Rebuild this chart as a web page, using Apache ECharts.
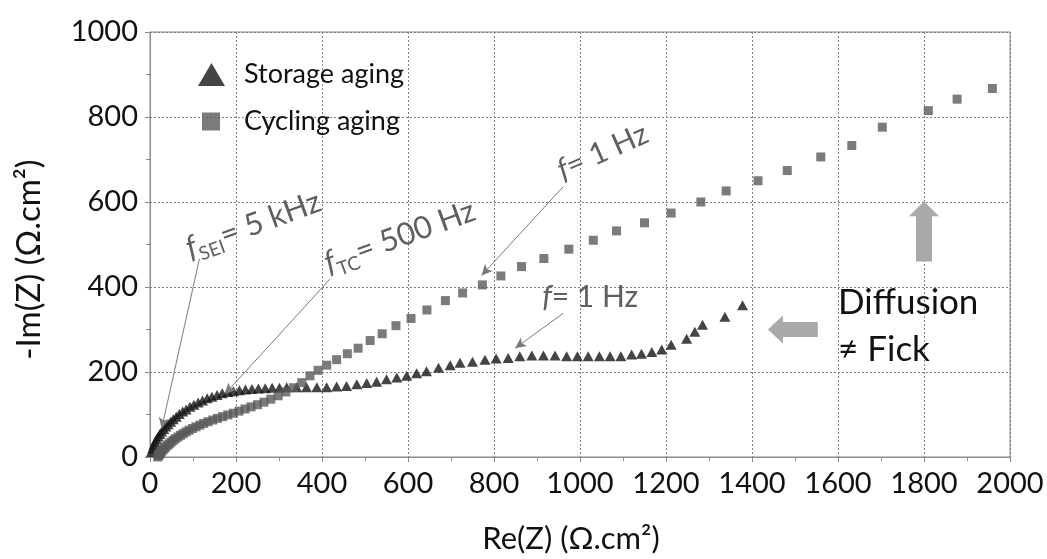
<!DOCTYPE html>
<html><head><meta charset="utf-8">
<script src="https://cdn.jsdelivr.net/npm/echarts@6/dist/echarts.min.js"></script>
<style>html,body{margin:0;padding:0;background:#fff}#c{width:1047px;height:559px}</style>
</head><body><div id="c"></div>
<script>
// ---- data (Re(Z), -Im(Z)) in ohm.cm2 ----
const storageRe = [3,6,9,12,15,19,23,27,32,37,42,48,54,61,68,76,84,93,102,112,122,133,144,156,168,181,194,208,222,237,252,268,284,301,318,341,364,388,411,434,457,481,504,527,550,574,597,620,643,671,698,721,750,779,805,833,860,888,915,942,969,994,1019,1045,1070,1095,1120,1143,1167,1190,1212,1248,1267,1285,1337,1378];
const storageIm = [12,20,28,35,42,48,54,60,66,72,77,83,89,95,101,107,112,118,123,128,133,138,142,146,150,153,155,157,159,160,161,162,163,163,164,164,164,164,164,166,167,171,174,177,183,187,191,197,202,210,216,222,224,229,232,233,237,239,239,239,237,237,237,237,237,237,241,243,247,253,264,278,295,311,330,357];
const cyclingRe = [18,20,22,24,26,28,31,34,37,41,45,49,54,59,65,71,77,84,91,99,107,116,125,135,146,157,169,181,194,207,221,235,250,265,281,298,316,334,353,372,391,411,434,459,484,512,540,572,607,644,687,727,773,816,864,916,974,1031,1085,1150,1212,1281,1340,1414,1482,1560,1632,1703,1810,1877,1959];
const cyclingIm = [0,3,6,9,12,15,18,21,24,28,31,35,39,43,47,51,55,59,63,67,71,75,79,83,87,91,95,99,103,108,113,118,123,129,136,144,153,163,175,191,204,216,229,243,256,274,290,309,326,346,368,386,405,426,448,467,489,510,532,551,574,600,626,650,674,706,733,776,815,842,867];
const xTicks = {min:0, max:2000, interval:200};
const yTicks = {min:0, max:1000, interval:200};
const seriesNames = ['Storage aging','Cycling aging'];
// annotation anchors in data units
const thinArrows = [[[115,466],[27,67]],[[419,419],[174,148]],[[961,636],[771,427]],[[961,338],[849,256]]];
const FONT = 'Lato';

const chart = echarts.init(document.getElementById('c'), null, {renderer:'canvas'});
const pair = (a,b)=>a.map((v,i)=>[v,b[i]]);
const axisCommon = {
  axisLine:{show:true,lineStyle:{color:'#8c8c8c',width:1}},
  axisTick:{show:true,inside:false,length:5,lineStyle:{color:'#8c8c8c'}},
  minorTick:{show:true,splitNumber:2,length:4,lineStyle:{color:'#8c8c8c'}},
  splitLine:{show:true,lineStyle:{color:'#808080',type:[2,2],width:1}},
  axisLabel:{fontFamily:FONT,fontSize:29,color:'#111',margin:12,formatter:v=>String(v)}
};
chart.setOption({
  animation:false,
  backgroundColor:'#fff',
  grid:{left:150,right:37,top:32,bottom:97,show:true,borderColor:'#8c8c8c',borderWidth:1},
  xAxis:Object.assign({type:'value',name:'Re(Z) (Ω.cm²)',nameLocation:'middle',nameGap:66}, xTicks, axisCommon,
     {nameTextStyle:{fontFamily:FONT,fontSize:31,color:'#111',padding:[0,18,0,0]}}),
  yAxis:Object.assign({type:'value',name:'-Im(Z) (Ω.cm²)',nameLocation:'middle',nameGap:104}, yTicks, axisCommon,
     {nameTextStyle:{fontFamily:FONT,fontSize:33,color:'#111',padding:[0,30,0,0]}}),
  legend:[
    {data:[{name:seriesNames[0],icon:'triangle'}],left:193,top:56,itemWidth:27,itemHeight:23,
     textStyle:{fontFamily:FONT,fontSize:27,color:'#111',padding:[0,0,0,14]}},
    {data:[{name:seriesNames[1],icon:'rect'}],left:197,top:103,itemWidth:18,itemHeight:18,
     textStyle:{fontFamily:FONT,fontSize:27,color:'#111',padding:[0,0,0,19]}}
  ],
  series:[
    {name:seriesNames[0],type:'scatter',symbol:'triangle',symbolSize:[11,10],itemStyle:{color:'#151515'},
     data:pair(storageRe,storageIm),z:2},
    {name:seriesNames[1],type:'scatter',symbol:'rect',symbolSize:9,itemStyle:{color:'#5a5a5a'},
     data:pair(cyclingRe,cyclingIm),z:3},
    {name:'annot',type:'line',data:[],silent:true,z:4,
     markLine:{silent:true,symbol:['none','arrow'],symbolSize:[8,11],label:{show:false},
       lineStyle:{color:'#7a7a7a',width:1,type:'solid'},
       data:thinArrows.map(a=>[{coord:a[0]},{coord:a[1]}])}}
  ]
});

const P = p => chart.convertToPixel({gridIndex:0}, p);
const deg = d => d*Math.PI/180;
const gray = '#5f5f5f';
function rtext(anchor, text, rot, rich){
  const p = P(anchor);
  return {type:'text',x:p[0],y:p[1],rotation:deg(rot),z:10,
    style:{text:text,rich:rich,fill:gray,font:'28px '+FONT,align:'left',verticalAlign:'bottom'}};
}
const richF = (fs)=>({f:{fontFamily:FONT,fontSize:fs,fontStyle:'italic',fill:gray},
                      s:{fontFamily:FONT,fontSize:Math.round(fs*0.6),fill:gray,verticalAlign:'bottom',padding:[0,0,-4,0]},
                      t:{fontFamily:FONT,fontSize:fs,fill:gray}});
function upArrow(tipD, baseD){
  const t=P(tipD), b=P(baseD); const sw=8, hw=15, hl=15;
  return {type:'polygon',z:5,shape:{points:[[t[0],t[1]],[t[0]+hw,t[1]+hl],[t[0]+sw,t[1]+hl],[t[0]+sw,b[1]],[t[0]-sw,b[1]],[t[0]-sw,t[1]+hl],[t[0]-hw,t[1]+hl]]},style:{fill:'#a9a9a9'}};
}
function leftArrow(tipD, tailD){
  const t=P(tipD), b=P(tailD); const sw=7.5, hw=14, hl=15;
  return {type:'polygon',z:5,shape:{points:[[t[0],t[1]],[t[0]+hl,t[1]-hw],[t[0]+hl,t[1]-sw],[b[0],t[1]-sw],[b[0],t[1]+sw],[t[0]+hl,t[1]+sw],[t[0]+hl,t[1]+hw]]},style:{fill:'#a9a9a9'}};
}
const dA = P([1600,340]), dB = P([1600,230]);
chart.setOption({graphic:[
  rtext([98,455],'{f|f}{s|SEI}{t|= 5 kHz}',20,richF(31)),
  rtext([420,420],'{f|f}{s|TC}{t|= 500 Hz}',20,richF(31)),
  rtext([965,640],'{f|f}{t|= 1 Hz}',24,richF(30)),
  rtext([912,340],'{f|f}{t|= 1 Hz}',0,richF(30)),
  upArrow([1800,602],[1800,460]),
  leftArrow([1437,300],[1553,300]),
  {type:'text',x:dA[0],y:dA[1]+8,z:10,style:{text:'Diffusion',font:'35px '+FONT,fill:'#111',verticalAlign:'bottom'}},
  {type:'text',x:dB[0],y:dB[1]+8,z:10,style:{text:'≠ Fick',font:'35px '+FONT,fill:'#111',verticalAlign:'bottom'}}
]});
</script></body></html>
